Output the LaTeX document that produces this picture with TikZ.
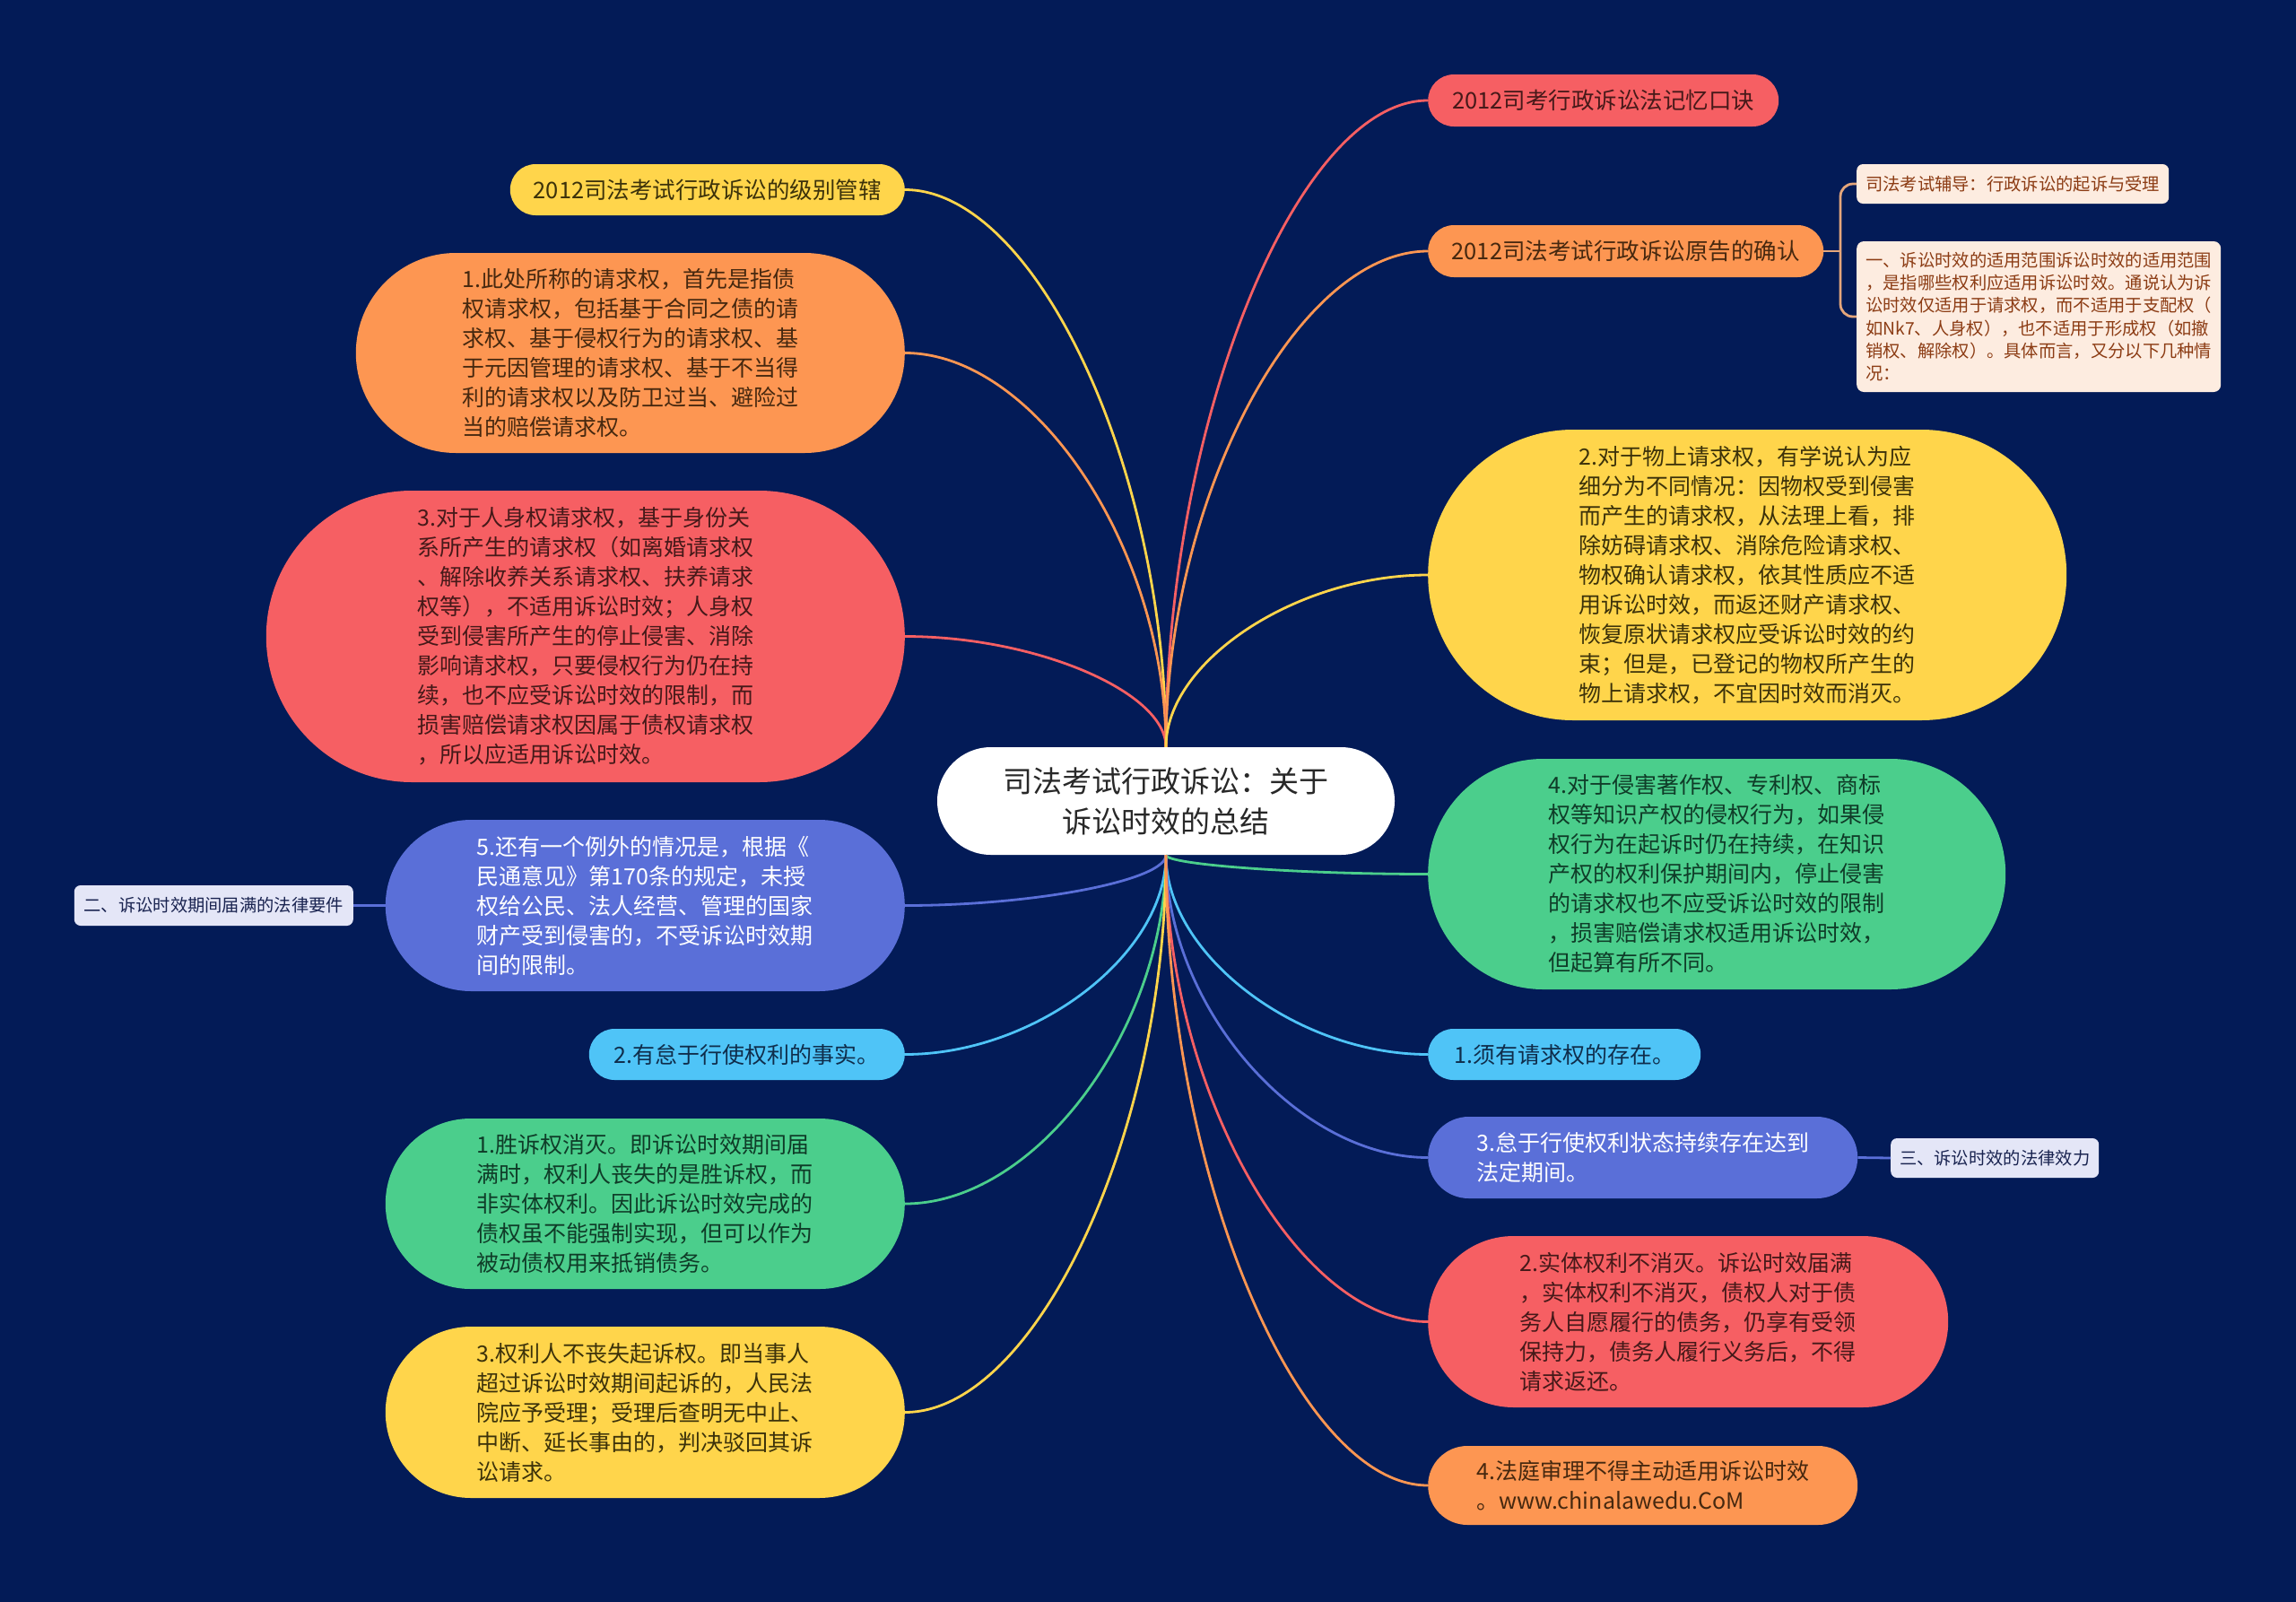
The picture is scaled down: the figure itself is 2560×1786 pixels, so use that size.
\documentclass[tikz,border=0pt]{standalone}
\usepackage{fontspec}
\setmainfont{Noto Sans CJK SC}
\usetikzlibrary{calc}
\definecolor{bgnavy}{RGB}{3,27,87}
\definecolor{cred}{RGB}{246,95,99}
\definecolor{corange}{RGB}{253,150,82}
\definecolor{cyellow}{RGB}{255,213,75}
\definecolor{cgreen}{RGB}{75,206,140}
\definecolor{cblue}{RGB}{90,111,216}
\definecolor{clblue}{RGB}{79,196,247}
\definecolor{clav}{RGB}{228,230,247}
\definecolor{cbeige}{RGB}{253,236,224}
\definecolor{cbrack}{RGB}{229,166,123}
\definecolor{tred}{RGB}{70,25,25}
\definecolor{torange}{RGB}{70,40,15}
\definecolor{tyellow}{RGB}{60,50,10}
\definecolor{tgreen}{RGB}{15,60,40}
\definecolor{tlblue}{RGB}{15,45,75}
\definecolor{tbeige}{RGB}{140,60,20}
\definecolor{tlav}{RGB}{25,35,80}
\definecolor{ctext}{RGB}{40,40,40}
\newcommand\linkto[3]{%
  \coordinate (s) at (#2);
  \coordinate (e) at (#3);
  \coordinate (m) at ($(s)!0.5!(e)$);
  \draw[conn,#1] (s) .. controls (s |- m) and (m |- e) .. (e);
}
\begin{document}
\begin{tikzpicture}[x=1pt,y=-1pt,
  nbase/.style={rectangle, inner sep=0pt, align=left},
  bodyf/.style={font=\fontsize{25}{33}\selectfont},
  bigf/.style={font=\fontsize{25.5}{33}\selectfont},
  smallf/.style={font=\fontsize{19.3}{25.3}\selectfont},
  sz/.style n args={3}{minimum width=#1pt, minimum height=#2pt, rounded corners=#3pt},
  redn/.style={nbase, fill=cred, text=tred},
  orangen/.style={nbase, fill=corange, text=torange},
  yellown/.style={nbase, fill=cyellow, text=tyellow},
  greenn/.style={nbase, fill=cgreen, text=tgreen},
  bluen/.style={nbase, fill=cblue, text=white},
  lbluen/.style={nbase, fill=clblue, text=tlblue},
  lavn/.style={nbase, fill=clav, text=tlav, smallf},
  beigen/.style={nbase, fill=cbeige, text=tbeige, smallf},
  conn/.style={line width=2.8pt},
  lft/.style={anchor=east},
  rgt/.style={anchor=west}
]
\useasboundingbox (0,0) rectangle (2560,1786);
\fill[bgnavy] (0,0) rectangle (2560,1786);

% center
\node[nbase, fill=white, text=ctext, align=center, font=\fontsize{33}{45}\selectfont, sz={510}{120}{59.9}] (c) at (1300,893) {司法考试行政诉讼：关于\\诉讼时效的总结};

% left side
\node[yellown, bigf, lft, sz={440}{57}{28.4}] (l1) at (1009,211.5) {2012司法考试行政诉讼的级别管辖};
\node[orangen, bodyf, lft, sz={612}{223}{111.4}] (l2) at (1009,393.5) {1.此处所称的请求权，首先是指债\\权请求权，包括基于合同之债的请\\求权、基于侵权行为的请求权、基\\于元因管理的请求权、基于不当得\\利的请求权以及防卫过当、避险过\\当的赔偿请求权。};
\node[redn, bodyf, lft, sz={712}{325}{162.4}] (l3) at (1009,709.5) {3.对于人身权请求权，基于身份关\\系所产生的请求权（如离婚请求权\\、解除收养关系请求权、扶养请求\\权等），不适用诉讼时效；人身权\\受到侵害所产生的停止侵害、消除\\影响请求权，只要侵权行为仍在持\\续，也不应受诉讼时效的限制，而\\损害赔偿请求权因属于债权请求权\\，所以应适用诉讼时效。};
\node[bluen, bodyf, lft, sz={579}{191}{95.4}] (l4) at (1009,1009.5) {5.还有一个例外的情况是，根据《\\民通意见》第170条的规定，未授\\权给公民、法人经营、管理的国家\\财产受到侵害的，不受诉讼时效期\\间的限制。};
\node[lavn, lft, sz={311}{45}{7}] (l5) at (394,1009.5) {二、诉讼时效期间届满的法律要件};
\node[lbluen, bodyf, lft, sz={352}{57}{28.4}] (l6) at (1009,1175.5) {2.有怠于行使权利的事实。};
\node[greenn, bodyf, lft, sz={579}{190}{94.9}] (l7) at (1009,1342) {1.胜诉权消灭。即诉讼时效期间届\\满时，权利人丧失的是胜诉权，而\\非实体权利。因此诉讼时效完成的\\债权虽不能强制实现，但可以作为\\被动债权用来抵销债务。};
\node[yellown, bodyf, lft, sz={579}{191}{95.4}] (l8) at (1009,1574.5) {3.权利人不丧失起诉权。即当事人\\超过诉讼时效期间起诉的，人民法\\院应予受理；受理后查明无中止、\\中断、延长事由的，判决驳回其诉\\讼请求。};

% right side
\node[redn, bigf, rgt, sz={391}{58}{28.9}] (r1) at (1592,112) {2012司考行政诉讼法记忆口诀};
\node[orangen, bigf, rgt, sz={441}{58}{28.9}] (r2) at (1592,280) {2012司法考试行政诉讼原告的确认};
\node[beigen, rgt, sz={348}{44}{7}] (b1) at (2070,205) {司法考试辅导：行政诉讼的起诉与受理};
\node[beigen, rgt, sz={406}{168}{8}] (b2) at (2070,353) {一、诉讼时效的适用范围诉讼时效的适用范围\\，是指哪些权利应适用诉讼时效。通说认为诉\\讼时效仅适用于请求权，而不适用于支配权（\\如Nk7、人身权），也不适用于形成权（如撤\\销权、解除权）。具体而言，又分以下几种情\\况：};
\node[yellown, bodyf, rgt, sz={712}{324}{161.9}] (r3) at (1592,641) {2.对于物上请求权，有学说认为应\\细分为不同情况：因物权受到侵害\\而产生的请求权，从法理上看，排\\除妨碍请求权、消除危险请求权、\\物权确认请求权，依其性质应不适\\用诉讼时效，而返还财产请求权、\\恢复原状请求权应受诉讼时效的约\\束；但是，已登记的物权所产生的\\物上请求权，不宜因时效而消灭。};
\node[greenn, bodyf, rgt, sz={644}{257}{128.4}] (r4) at (1592,974.5) {4.对于侵害著作权、专利权、商标\\权等知识产权的侵权行为，如果侵\\权行为在起诉时仍在持续，在知识\\产权的权利保护期间内，停止侵害\\的请求权也不应受诉讼时效的限制\\，损害赔偿请求权适用诉讼时效，\\但起算有所不同。};
\node[lbluen, bodyf, rgt, sz={304}{57}{28.4}] (r5) at (1592,1175.5) {1.须有请求权的存在。};
\node[bluen, bodyf, rgt, sz={479}{91}{45.4}] (r6) at (1592,1290.5) {3.怠于行使权利状态持续存在达到\\法定期间。};
\node[lavn, rgt, sz={232}{44}{7}] (r7) at (2108,1291) {三、诉讼时效的法律效力};
\node[redn, bodyf, rgt, sz={580}{191}{95.4}] (r8) at (1592,1473.5) {2.实体权利不消灭。诉讼时效届满\\，实体权利不消灭，债权人对于债\\务人自愿履行的债务，仍享有受领\\保持力，债务人履行义务后，不得\\请求返还。};
\node[orangen, bodyf, rgt, sz={479}{88}{43.9}] (r9) at (1592,1656) {4.法庭审理不得主动适用诉讼时效\\。www.chinalawedu.CoM};

% connectors from the centre
\linkto{cyellow}{c.north}{l1.east}
\linkto{corange}{c.north}{l2.east}
\linkto{cred}{c.north}{l3.east}
\linkto{cred}{c.north}{r1.west}
\linkto{corange}{c.north}{r2.west}
\linkto{cyellow}{c.north}{r3.west}
\linkto{cblue}{c.south}{l4.east}
\linkto{clblue}{c.south}{l6.east}
\linkto{cgreen}{c.south}{l7.east}
\linkto{cyellow}{c.south}{l8.east}
\linkto{cgreen}{c.south}{r4.west}
\linkto{clblue}{c.south}{r5.west}
\linkto{cblue}{c.south}{r6.west}
\linkto{cred}{c.south}{r8.west}
\linkto{corange}{c.south}{r9.west}

% secondary links
\draw[conn, cblue] (l4.west) -- (l5.east);
\draw[conn, cblue] (r6.east) -- (r7.west);
\coordinate (k) at (2052,280);
\draw[conn, cbrack] (r2.east) -- (k);
\draw[conn, cbrack, rounded corners=14pt] (b1.west) -| (k) |- (b2.west);
\end{tikzpicture}
\end{document}
